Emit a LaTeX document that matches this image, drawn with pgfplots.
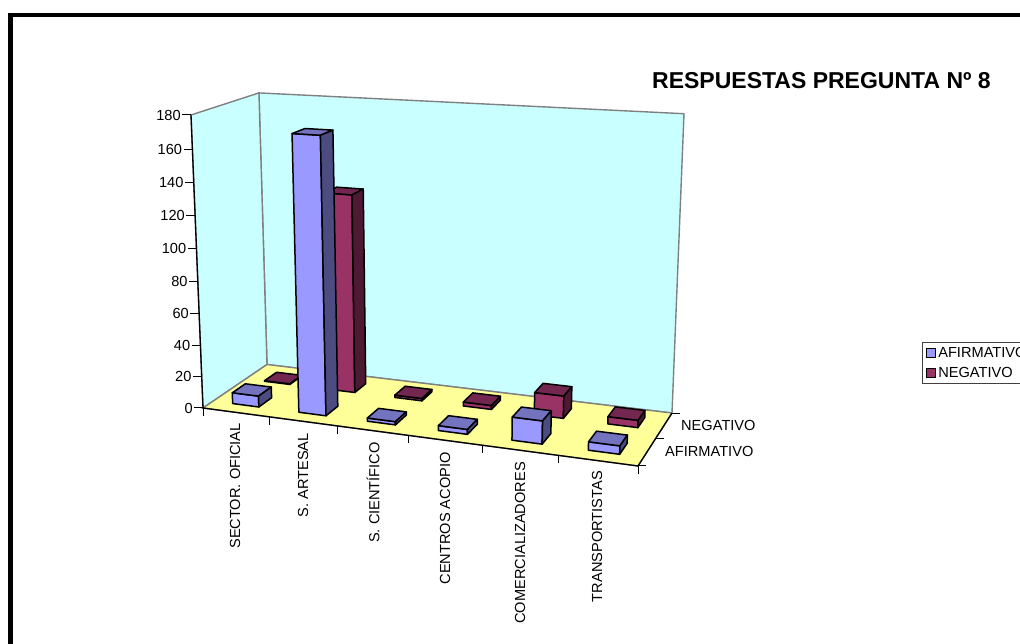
\documentclass[border=0pt]{standalone}
\usepackage{fontspec}
\setmainfont{Liberation Sans}
\usepackage{pgfplots}
\usepackage{pgfplotstable}
\pgfplotsset{compat=1.18}

\definecolor{wall}{HTML}{CAFFFF}
\definecolor{floorc}{HTML}{FFFF99}
\definecolor{afi}{HTML}{9999FF}
\definecolor{afitop}{HTML}{7373BF}
\definecolor{afiside}{HTML}{4C4C80}
\definecolor{neg}{HTML}{993366}
\definecolor{negtop}{HTML}{732650}
\definecolor{negside}{HTML}{4D1933}

% values
\pgfplotstableread{
cat afirmativo negativo
0 7 0.4
1 170 126
2 2 1.5
3 3 2.5
4 14 14
5 5 4.5
}\barvalues

% corners of a unit box
\pgfplotstableread{
a b c
0 0 0
1 0 0
1 0 1
0 0 1
}\frontface
\pgfplotstableread{
a b c
1 0 0
1 1 0
1 1 1
1 0 1
}\sideface
\pgfplotstableread{
a b c
0 0 1
1 0 1
1 1 1
0 1 1
}\topface
\pgfplotstableread{
d e
0 0
8 0
}\tickends

% u-centre, v-centre, value, front, top, side
\newcommand{\prism}[6]{%
  \addplot[fill=#4,bar edge] table[x expr={px(#1-0.2+0.4*\thisrow{a},#2-0.2+0.4*\thisrow{b},#3*\thisrow{c})},
    y expr={py(#1-0.2+0.4*\thisrow{a},#2-0.2+0.4*\thisrow{b},#3*\thisrow{c})}] {\frontface} -- cycle;
  \addplot[fill=#5,bar edge] table[x expr={px(#1-0.2+0.4*\thisrow{a},#2-0.2+0.4*\thisrow{b},#3*\thisrow{c})},
    y expr={py(#1-0.2+0.4*\thisrow{a},#2-0.2+0.4*\thisrow{b},#3*\thisrow{c})}] {\topface} -- cycle;
  \addplot[fill=#6,bar edge] table[x expr={px(#1-0.2+0.4*\thisrow{a},#2-0.2+0.4*\thisrow{b},#3*\thisrow{c})},
    y expr={py(#1-0.2+0.4*\thisrow{a},#2-0.2+0.4*\thisrow{b},#3*\thisrow{c})}] {\sideface} -- cycle;
}

\begin{document}
\begin{tikzpicture}[font=\fontsize{14.6}{17}\selectfont]
\begin{axis}[
  scale only axis, width=1020pt, height=644pt,
  xmin=0, xmax=1020, ymin=0, ymax=644, y dir=reverse,
  hide axis,
  % u = category 0..6, v = series 0..2, w = value 0..180, to picture position
  declare function={
    den(\a,\b,\c)=1-0.10351*\a/6+0.08276*\b/2-0.04817*\c/180;
    px(\a,\b,\c)=(203+368.96*\a/6+86.10*\b/2-21.2*\c/180)/den(\a,\b,\c);
    py(\a,\b,\c)=(408+9.76*\a/6-13.33*\b/2-298.54*\c/180)/den(\a,\b,\c);
  },
  every axis plot/.append style={forget plot},
  bar edge/.style={draw=black,line width=1.5pt,line join=round,no markers},
  legend style={at={(0.9039,0.4689)},anchor=north west,draw=black!75,line width=0.9pt,
    inner xsep=4pt,inner ysep=2.5pt,row sep=4.5pt,cells={anchor=west},
    font=\fontsize{14.6}{17}\selectfont},
  legend image code/.code={\draw[#1] (0pt,-4.5pt) rectangle (9pt,4.5pt);},
]
% legend
\addlegendimage{fill=afi,draw=black,line width=0.9pt}
\addlegendentry{AFIRMATIVO}
\addlegendimage{fill=neg,draw=black,line width=0.9pt}
\addlegendentry{NEGATIVO}

% outer frame
\addplot[black,line width=4.5pt,no markers] coordinates {(10.5,660) (10.5,15) (1040,15)};

% walls and floor
\addplot[fill=wall,draw=gray,line width=1.4pt,no markers] table[x expr={px(\thisrow{a},2,\thisrow{c})},y expr={py(\thisrow{a},2,\thisrow{c})},row sep=\\] {a c\\0 0\\6 0\\6 180\\0 180\\} -- cycle;
\addplot[fill=wall,draw=gray,line width=1.4pt,no markers] table[x expr={px(0,\thisrow{b},\thisrow{c})},y expr={py(0,\thisrow{b},\thisrow{c})},row sep=\\] {b c\\0 0\\2 0\\2 180\\0 180\\} -- cycle;
\addplot[fill=floorc,draw=gray,line width=1.4pt,no markers] table[x expr={px(\thisrow{a},\thisrow{b},0)},y expr={py(\thisrow{a},\thisrow{b},0)},row sep=\\] {a b\\0 0\\6 0\\6 2\\0 2\\} -- cycle;

% axis lines
\addplot[black,line width=1.3pt,no markers] table[x expr={px(\thisrow{a},\thisrow{b},\thisrow{c})},y expr={py(\thisrow{a},\thisrow{b},\thisrow{c})},row sep=\\] {a b c\\0 0 180\\0 0 0\\6 0 0\\6 2 0\\};

% ticks
\pgfplotsinvokeforeach{0,20,...,180}{
  \addplot[black,line width=1pt,no markers] table[x expr={px(0,0,#1)-1.1*\thisrow{d}},y expr={py(0,0,#1)}] {\tickends} node[pos=1,anchor=east,inner sep=1pt] {#1};
}
\pgfplotsinvokeforeach{0,...,6}{
  \addplot[black,line width=1pt,no markers] table[x expr={px(#1,0,0)},y expr={py(#1,0,0)+\thisrow{d}}] {\tickends};
}
\pgfplotsinvokeforeach{0,1,2}{
  \addplot[black,line width=1pt,no markers] table[x expr={px(6,#1,0)+\thisrow{d}},y expr={py(6,#1,0)}] {\tickends};
}

% bars, back row first
\pgfplotsinvokeforeach{0,...,5}{
  \pgfplotstablegetelem{#1}{negativo}\of\barvalues
  \let\barval\pgfplotsretval
  \prism{#1.5}{1.5}{\barval}{neg}{negtop}{negside}
}
\pgfplotsinvokeforeach{0,...,5}{
  \pgfplotstablegetelem{#1}{afirmativo}\of\barvalues
  \let\barval\pgfplotsretval
  \prism{#1.5}{0.5}{\barval}{afi}{afitop}{afiside}
}

% category and series names
\node[rotate=90,anchor=east,inner sep=0pt] at (axis cs:235,423) {SECTOR. OFICIAL};
\node[rotate=90,anchor=east,inner sep=0pt] at (axis cs:303,433) {S. ARTESAL};
\node[rotate=90,anchor=east,inner sep=0pt] at (axis cs:373,442) {S. CIENTÍFICO};
\node[rotate=90,anchor=east,inner sep=0pt] at (axis cs:445,452) {CENTROS ACOPIO};
\node[rotate=90,anchor=east,inner sep=0pt] at (axis cs:520,462) {COMERCIALIZADORES};
\node[rotate=90,anchor=east,inner sep=0pt] at (axis cs:597,471) {TRANSPORTISTAS};
\node[anchor=west,inner sep=0pt] at (axis cs:681,425.5) {NEGATIVO};
\node[anchor=west,inner sep=0pt] at (axis cs:665,451) {AFIRMATIVO};

% title
\node[anchor=west,inner sep=0pt,font=\fontsize{23}{27}\selectfont\bfseries] at (axis cs:652,81) {RESPUESTAS PREGUNTA Nº 8};
\end{axis}
\pgfresetboundingbox
\path[use as bounding box] (0,0) rectangle (1020pt,644pt);
\end{tikzpicture}
\end{document}
